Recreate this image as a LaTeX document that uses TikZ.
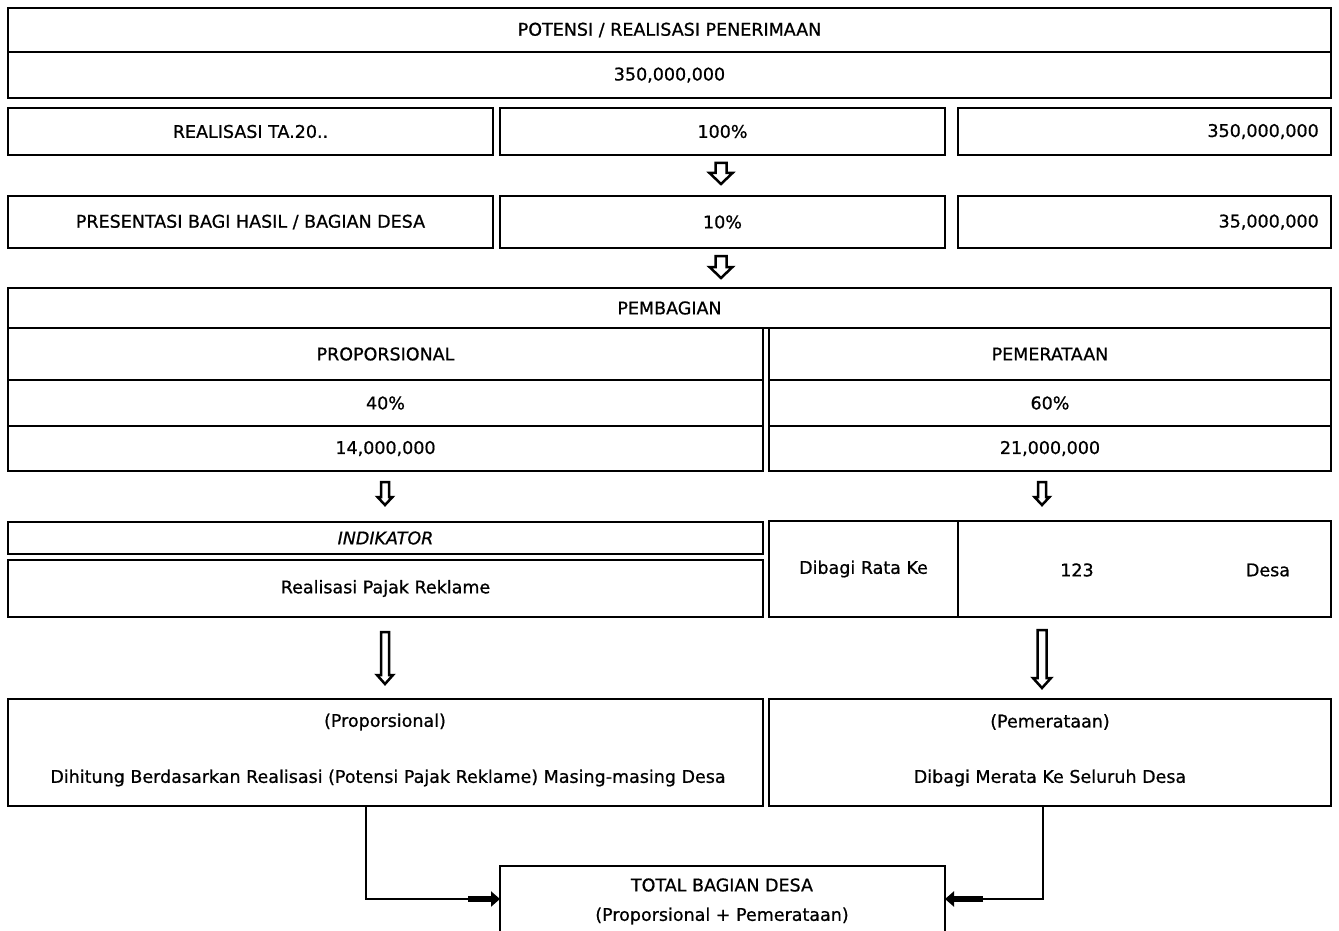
\documentclass[tikz,border=0pt]{standalone}
\usepackage{fontspec}
\setmainfont{DejaVu Sans}[FakeBold=0.8]
\usetikzlibrary{arrows.meta}
\tikzset{
  box/.style={draw, line width=2.8pt, inner sep=0pt, outer sep=0pt, font=\fontsize{17.5}{21}\selectfont},
  txt/.style={inner sep=0pt, font=\fontsize{17.5}{21}\selectfont},
  conn/.style={line width=2.2pt},
  harrow/.style={draw, line width=2.5pt, fill=white, line join=miter},
  fat/.style={line width=6.5pt, -{Triangle[length=9pt,width=15pt]}}
}
\newcommand\bx[6]{\node[box, minimum width={#4-#2}, minimum height={#5-#3}] (#1) at ({(#2+#4)/2},{(#3+#5)/2}) {#6};}
\newcommand\harr[6]{\draw[harrow] ({#1-#4},#2) -- ({#1+#4},#2) -- ({#1+#4},{#3-#6}) -- ({#1+#5},{#3-#6}) -- (#1,#3) -- ({#1-#5},{#3-#6}) -- ({#1-#4},{#3-#6}) -- cycle;}
\begin{document}
\begin{tikzpicture}[x=1pt,y=-1pt]
\useasboundingbox (0,0) rectangle (1339,931);
\clip (0,0) rectangle (1339,931);
% row 1
\bx{t1}{8}{8}{1331}{52}{POTENSI / REALISASI PENERIMAAN}
\bx{t2}{8}{52}{1331}{98}{350,000,000}
% row 2
\bx{r1}{8}{108}{493}{155}{REALISASI TA.20..}
\bx{r2}{500}{108}{945}{155}{100\%}
\bx{r3}{958}{108}{1331}{155}{}
\node[txt, anchor=east, xshift=-12pt] (r3t) at (r3.east) {350,000,000};
% row 3
\bx{p1}{8}{196}{493}{248}{PRESENTASI BAGI HASIL / BAGIAN DESA}
\bx{p2}{500}{196}{945}{248}{10\%}
\bx{p3}{958}{196}{1331}{248}{}
\node[txt, anchor=east, xshift=-12pt] (p3t) at (p3.east) {35,000,000};
% pembagian
\bx{pb}{8}{288}{1331}{328}{PEMBAGIAN}
\bx{lp}{8}{328}{763}{380}{PROPORSIONAL}
\bx{lq}{8}{380}{763}{426}{40\%}
\bx{lr}{8}{426}{763}{471}{14,000,000}
\bx{rp}{769}{328}{1331}{380}{PEMERATAAN}
\bx{rq}{769}{380}{1331}{426}{60\%}
\bx{rr}{769}{426}{1331}{471}{21,000,000}
% indikator
\bx{ind}{8}{522}{763}{554}{\itshape INDIKATOR}
\bx{rpr}{8}{560}{763}{617}{Realisasi Pajak Reklame}
\bx{dib}{769}{521}{958}{617}{Dibagi Rata Ke}
\bx{des}{958}{521}{1331}{617}{}
\node[txt] (n123) at (1077,570) {123};
\node[txt] (ndesa) at (1268,570) {Desa};
% bottom boxes
\bx{pbox}{8}{699}{763}{806}{}
\node[txt] (pbt1) at (385,722) {(Proporsional)};
\node[txt] (pbt2) at (388,778) {Dihitung Berdasarkan Realisasi (Potensi Pajak Reklame) Masing-masing Desa};
\bx{qbox}{769}{699}{1331}{806}{}
\node[txt] (qbt1) at (1050,722) {(Pemerataan)};
\node[txt] (qbt2) at (1050,778) {Dibagi Merata Ke Seluruh Desa};
\bx{total}{500}{866}{945}{932}{}
\node[txt] (tt1) at (722,885) {TOTAL BAGIAN DESA};
\node[txt] (tt2) at (722,916) {(Proporsional + Pemerataan)};
% hollow arrows
\harr{721}{163}{184}{5.5}{11.5}{11}
\harr{721}{256}{278}{5.5}{11.5}{11}
\harr{385}{482}{505}{4}{7.5}{8}
\harr{1042}{482}{505}{4}{7.5}{8}
\harr{385}{632}{684}{4}{8}{9}
\harr{1042}{630}{688}{4.5}{9}{10}
% connectors
\coordinate (lx) at (366,0);
\coordinate (rx) at (1043,0);
\coordinate (la) at (468,899);
\coordinate (ra) at (983,899);
\draw[conn] (pbox.south -| lx) |- (la);
\draw[fat] (la) -- (total.west);
\draw[conn] (qbox.south -| rx) |- (ra);
\draw[fat] (ra) -- (total.east);
\end{tikzpicture}
\end{document}
